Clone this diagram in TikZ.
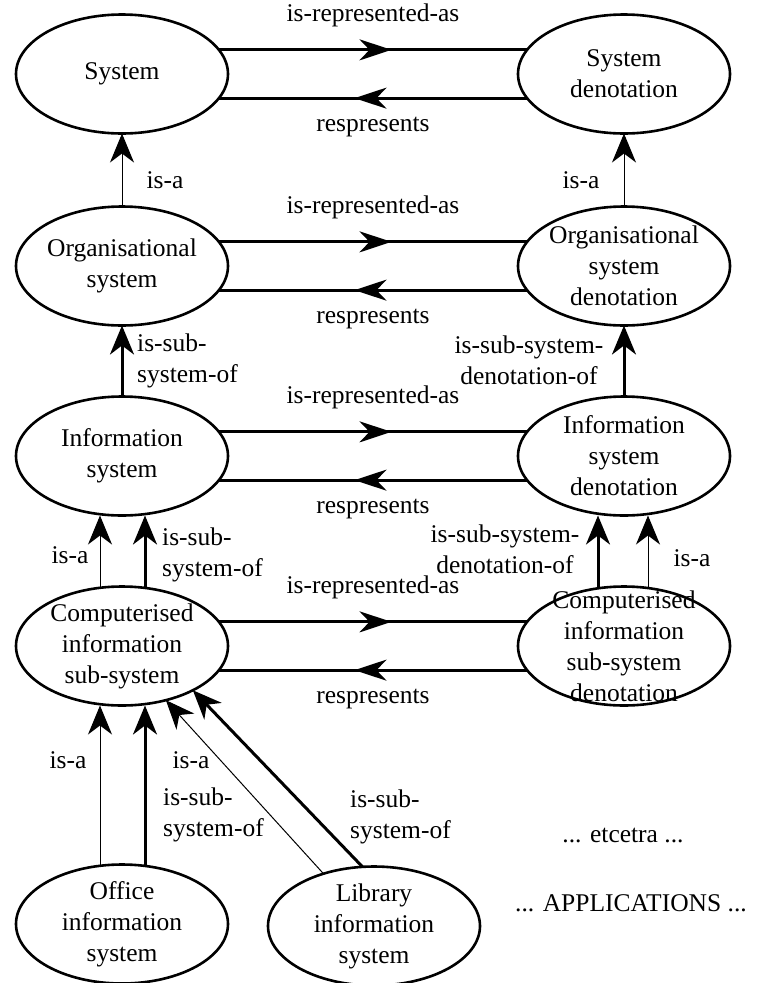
\documentclass[tikz,border=0pt]{standalone}
\usepackage{fontspec}
\setmainfont{Liberation Serif}
\newfontfamily\timesfam{Liberation Serif}
\usetikzlibrary{arrows.meta,decorations.markings,shapes.geometric}
\begin{document}
\begin{tikzpicture}[x=1pt,y=-1pt,
  font=\timesfam\fontsize{25.5}{31}\selectfont,
  ell/.style={ellipse, draw, line width=2.6pt, minimum width=212pt, minimum height=119pt, inner sep=0pt, outer sep=0pt},
  thinarr/.style={line width=1pt, -{Stealth[length=29pt,width=24pt,inset=9pt]}},
  thickarr/.style={line width=3pt, -{Stealth[length=29pt,width=24pt,inset=9pt]}},
  midarr/.style={line width=3pt, postaction={decorate},
    decoration={markings, mark=at position 0.56 with {\arrow{Stealth[length=32pt,width=21pt,inset=10pt]}}}},
  lab/.style={inner sep=0pt, align=center},
  above lab/.style={lab, anchor=mid, yshift=31pt},
  below lab/.style={lab, anchor=mid, yshift=-31pt}
]
\useasboundingbox (0,0) rectangle (757,983);

% ellipses
\node[ell, label={[align=center]center:System}] (sys) at (122,74) {};
\node[ell, label={[align=center]center:System\\denotation}] (sysd) at (624,74) {};
\node[ell, label={[align=center]center:Organisational\\system}] (org) at (122,266) {};
\node[ell, label={[align=center]center:Organisational\\system\\denotation}] (orgd) at (624,266) {};
\node[ell, label={[align=center]center:Information\\system}] (inf) at (122,456) {};
\node[ell, label={[align=center]center:Information\\system\\denotation}] (infd) at (624,456) {};
\node[ell, label={[align=center]center:Computerised\\information\\sub-system}] (cis) at (122,646) {};
\node[ell, label={[align=center]center:Computerised\\information\\sub-system\\denotation}] (cisd) at (624,646) {};
\node[ell, label={[align=center]center:Office\\information\\system}] (off) at (122,924) {};
\node[ell, label={[align=center]center:Library\\information\\system}] (lib) at (374,926) {};

% horizontal pairs
\foreach \a/\b in {sys/sysd, org/orgd, inf/infd, cis/cisd}{
  \draw[midarr] (\a.14) -- node[above lab]{is-represented-as} (\b.166);
  \draw[midarr] (\b.194) -- node[below lab]{respresents} (\a.-14);
}

% row 1-2
\draw[thinarr] (org.north) -- (sys.south);
\draw[thinarr] (orgd.north) -- (sysd.south);
\node[lab] (l1) at (165,180) {is-a};
\node[lab] (l2) at (581,180) {is-a};

% row 2-3
\draw[thickarr] (inf.north) -- (org.south);
\draw[thickarr] (infd.north) -- (orgd.south);
\node[lab, anchor=west, align=left] (l3) at (137,361) {is-sub-\\system-of};
\node[lab] (l4) at (529,360) {is-sub-system-\\denotation-of};

% row 3-4
\draw[thinarr] ([xshift=-22pt]cis.north) -- ([xshift=-22pt]inf.south);
\draw[thickarr] ([xshift=23pt]cis.north) -- ([xshift=23pt]inf.south);
\draw[thickarr] ([xshift=-26pt]cisd.north) -- ([xshift=-26pt]infd.south);
\draw[thinarr] ([xshift=24pt]cisd.north) -- ([xshift=24pt]infd.south);
\node[lab] (l5) at (70,555) {is-a};
\node[lab, anchor=west, align=left] (l6) at (162,555) {is-sub-\\system-of};
\node[lab] (l7) at (505,549) {is-sub-system-\\denotation-of};
\node[lab] (l8) at (692,558) {is-a};

% row 4-5
\draw[thinarr] ([xshift=-22pt]off.north) -- ([xshift=-22pt]cis.south);
\draw[thickarr] ([xshift=23pt]off.north) -- ([xshift=23pt]cis.south);
\draw[thinarr] (lib.134) -- (cis.-51);
\draw[thickarr] (lib.101) -- (cis.-32);
\node[lab] (l9) at (68,760) {is-a};
\node[lab] (l10) at (191,760) {is-a};
\node[lab, anchor=west, align=left] (l11) at (163,815) {is-sub-\\system-of};
\node[lab, anchor=west, align=left] (l12) at (350,817) {is-sub-\\system-of};

\node[lab] (etc) at (623,835) {... etcetra ...};
\node[lab] (app) at (631,903) {... APPLICATIONS ...};
\end{tikzpicture}
\end{document}
